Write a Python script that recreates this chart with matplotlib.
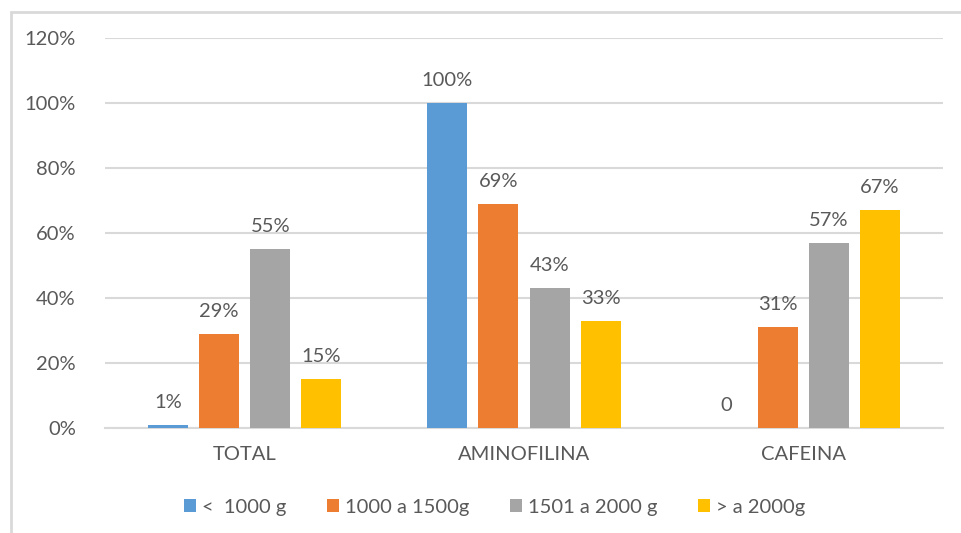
import numpy as np
import matplotlib
matplotlib.use("Agg")
import matplotlib.pyplot as plt
from matplotlib.patches import Rectangle

# data
categories = ["TOTAL", "AMINOFILINA", "CAFEINA"]
series = ["<  1000 g", "1000 a 1500g", "1501 a 2000 g", "> a 2000g"]
v_lt1000 = [1, 100, 0]
v_1000_1500 = [29, 69, 31]
v_1501_2000 = [55, 43, 57]
v_gt2000 = [15, 33, 67]
lbl_lt1000 = ["1%", "100%", "0"]
lbl_1000_1500 = ["29%", "69%", "31%"]
lbl_1501_2000 = ["55%", "43%", "57%"]
lbl_gt2000 = ["15%", "33%", "67%"]
yticks = [0, 20, 40, 60, 80, 100, 120]

values = [v_lt1000, v_1000_1500, v_1501_2000, v_gt2000]
labels = [lbl_lt1000, lbl_1000_1500, lbl_1501_2000, lbl_gt2000]
colors = ["#5B9BD5", "#ED7D31", "#A5A5A5", "#FFC000"]
txt = "#595959"
fs = 14.5

plt.rcParams["font.family"] = ["Lato", "DejaVu Sans"]

fig = plt.figure(figsize=(9.61, 5.33), dpi=100)
# light chart frame (top and left edges visible)
fig.patches.append(Rectangle((11 / 961, -0.1), 1.2, (533 - 12) / 533 + 0.1,
                             transform=fig.transFigure, fill=False,
                             edgecolor="#d9d9d9", linewidth=2))

ax = fig.add_axes([105 / 961, 105 / 533, 838 / 961, 390 / 533])

x = np.arange(len(categories))
width = 0.143
step = 0.183
for i, (vals, labs, col, name) in enumerate(zip(values, labels, colors, series)):
    pos = x + (i - 1.5) * step
    bars = ax.bar(pos, vals, width, color=col, label=name, zorder=3)
    for b, lab in zip(bars, labs):
        ax.annotate(lab, (b.get_x() + b.get_width() / 2, b.get_height()),
                    xytext=(0, 10), textcoords="offset points",
                    ha="center", va="bottom", fontsize=fs, color=txt)

ax.set_xlim(-0.5, 2.5)
ax.set_ylim(0, 120)
ax.set_yticks(yticks)
ax.set_yticklabels([f"{t}%" for t in yticks])
ax.set_xticks(x)
ax.set_xticklabels(categories)
ax.tick_params(axis="both", length=0, labelsize=fs, colors=txt)
ax.tick_params(axis="y", pad=21)
ax.tick_params(axis="x", pad=13)
ax.grid(axis="y", color="#d9d9d9", linewidth=1.5, zorder=0)
for s in ["top", "right", "left"]:
    ax.spines[s].set_visible(False)
ax.spines["bottom"].set_color("#d9d9d9")
ax.spines["bottom"].set_linewidth(1.5)

ax.legend(loc="upper center", bbox_to_anchor=(0.465, -0.135), ncol=4,
          frameon=False, fontsize=fs, labelcolor=txt,
          handlelength=0.6, handleheight=0.6, handletextpad=0.3,
          columnspacing=2.0)

fig.savefig("out.png", dpi=100)
